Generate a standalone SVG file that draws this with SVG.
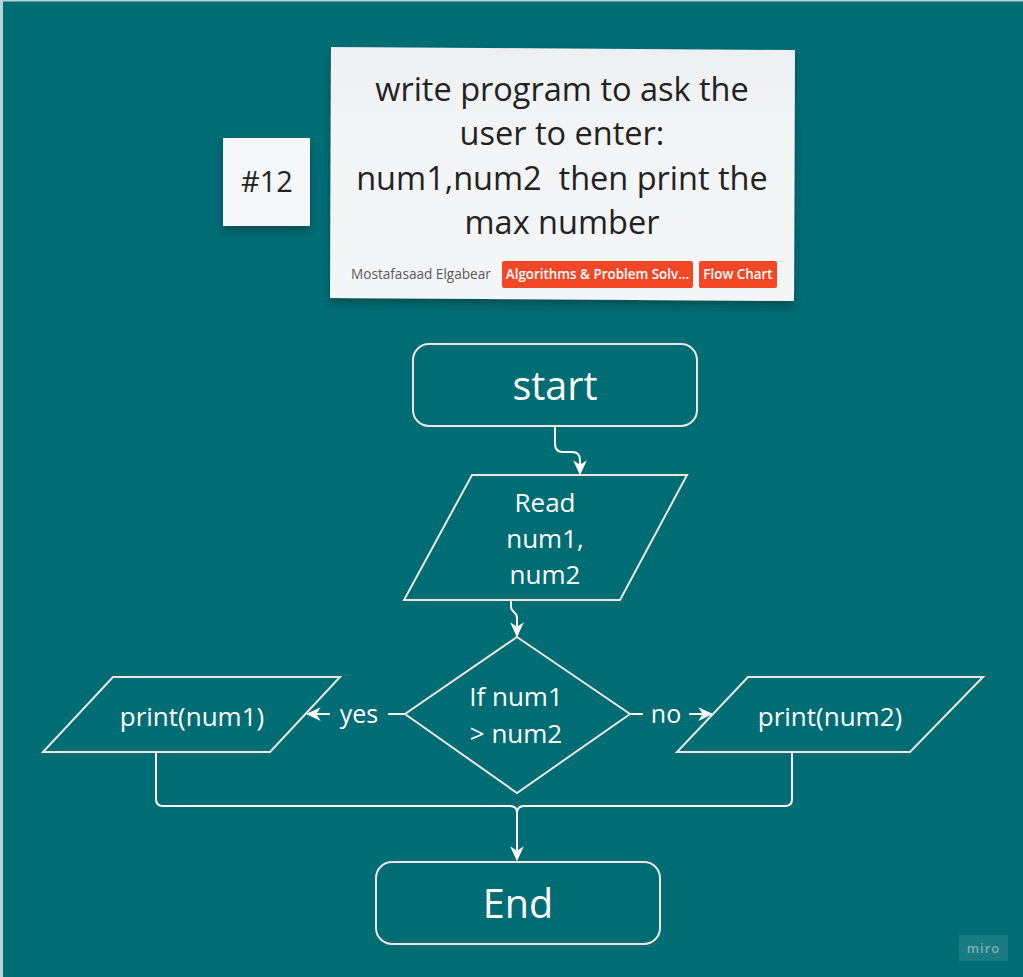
<svg xmlns="http://www.w3.org/2000/svg" width="1023" height="977" viewBox="0 0 1023 977">
<defs>
<style>
.shape{fill:none;stroke:#ebe7e0;stroke-width:2;stroke-linejoin:miter}
.lbl{font-family:"Open Sans","Noto Sans","DejaVu Sans",sans-serif;fill:#ffffff;text-anchor:middle}
.conn{fill:none;stroke:#ffffff;stroke-width:2}
.card{font-family:"Open Sans","Noto Sans","DejaVu Sans",sans-serif;fill:#222222;text-anchor:middle}
.tag{font-family:"Open Sans","Noto Sans","DejaVu Sans",sans-serif;fill:#ffffff;text-anchor:middle;font-size:13.4px;font-weight:600}
</style>
<marker id="arr" viewBox="0 0 12 12" refX="11" refY="6" markerWidth="15" markerHeight="15" markerUnits="userSpaceOnUse" orient="auto">
<path d="M0,0.5 L12,6 L0,11.5 L3.5,6 z" fill="#ffffff"/>
</marker>
<filter id="sh" x="-10%" y="-10%" width="120%" height="130%">
<feDropShadow dx="0" dy="5" stdDeviation="4" flood-color="#002a2e" flood-opacity="0.45"/>
</filter>
<linearGradient id="cg" x1="0" y1="0" x2="0" y2="1">
<stop offset="0" stop-color="#eeeff1"/>
<stop offset="0.3" stop-color="#f3f4f6"/>
<stop offset="1" stop-color="#f4f5f7"/>
</linearGradient>
</defs>
<rect x="0" y="0" width="1023" height="977" fill="#006d74"/>
<rect x="0" y="0" width="3" height="977" fill="#b9d3d5"/>
<rect x="0" y="0" width="1023" height="1.5" fill="#b9d3d5"/>

<g id="tag-number">
<rect x="223" y="138" width="87" height="88" fill="#f5f6f8" filter="url(#sh)"/>
<text class="card" x="267" y="192" font-size="29">#12</text>
</g>

<g id="task-card">
<polygon points="331,47 795,50 794,301 330,298" fill="url(#cg)" filter="url(#sh)"/>
<text class="card" x="562" y="101" font-size="32.5">write program to ask the</text>
<text class="card" x="562" y="145" font-size="32.5">user to enter:</text>
<text class="card" x="562" y="190" font-size="32.5" xml:space="preserve">num1,num2  then print the</text>
<text class="card" x="562" y="234" font-size="32.5">max number</text>
<text x="351" y="279" font-family="'Open Sans','Noto Sans',sans-serif" font-size="13.6" fill="#5a5a5a">Mostafasaad Elgabear</text>
<rect x="502" y="261" width="191" height="27" rx="2" fill="#f24726"/>
<text class="tag" x="597.5" y="279">Algorithms &amp; Problem Solv...</text>
<rect x="699" y="261" width="78" height="27" rx="2" fill="#f24726"/>
<text class="tag" x="738" y="279">Flow Chart</text>
</g>

<g id="connectors">
<path class="conn" d="M555,427 V444 Q555,452 563,452 H572 Q580,452 580,460 V474" marker-end="url(#arr)"/>
<path class="conn" d="M511,601 V607 C511,613 517,611 517,618 V636" marker-end="url(#arr)"/>
<path class="conn" d="M405,714 H388"/>
<path class="conn" d="M330,714 H307" marker-end="url(#arr)"/>
<path class="conn" d="M630,714 H643"/>
<path class="conn" d="M689,714 H712" marker-end="url(#arr)"/>
<path class="conn" d="M156,753 V799 Q156,806 163,806 H510 Q517,806 517,813 V860" marker-end="url(#arr)"/>
<path class="conn" d="M792,753 V799 Q792,806 785,806 H524 Q517,806 517,813"/>
<text class="lbl" x="359" y="723" font-size="25">yes</text>
<text class="lbl" x="666" y="723" font-size="25">no</text>
</g>

<g id="start">
<rect class="shape" x="413" y="344" width="284" height="82" rx="16"/>
<text class="lbl" x="555" y="400" font-size="39.5">start</text>
</g>

<g id="read">
<polygon class="shape" points="472,475 687,475 620,600 404,600"/>
<text class="lbl" x="545" y="512" font-size="26">Read</text>
<text class="lbl" x="545" y="548" font-size="26">num1,</text>
<text class="lbl" x="545" y="584" font-size="26">num2</text>
</g>

<g id="decision">
<polygon class="shape" points="517,637 630,714 517,793 405,714"/>
<text class="lbl" x="516" y="706" font-size="26">If num1</text>
<text class="lbl" x="516" y="743" font-size="26">&gt; num2</text>
</g>

<g id="print1">
<polygon class="shape" points="113,677 340,677 270,752 43,752"/>
<text class="lbl" x="192" y="726" font-size="26">print(num1)</text>
</g>

<g id="print2">
<polygon class="shape" points="748,677 983,677 910,752 677,752"/>
<text class="lbl" x="830" y="726" font-size="26">print(num2)</text>
</g>

<g id="end">
<rect class="shape" x="376" y="862" width="284" height="82" rx="16"/>
<text class="lbl" x="518" y="918" font-size="39.5">End</text>
</g>

<g id="miro-badge">
<rect x="959" y="935" width="49" height="26" fill="#ffffff" fill-opacity="0.1"/>
<text x="983.5" y="953" font-family="'Open Sans','Noto Sans',sans-serif" font-size="13" font-weight="600" fill="#7fb0b3" text-anchor="middle" letter-spacing="1">miro</text>
</g>
</svg>
